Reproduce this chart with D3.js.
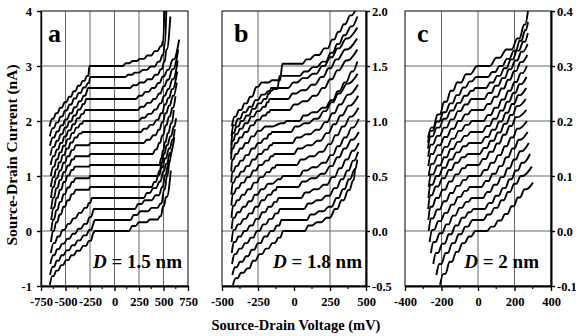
<!DOCTYPE html>
<html>
<head>
<meta charset="utf-8">
<script src="https://cdn.jsdelivr.net/npm/d3@7"></script>
<style>
  body { margin: 0; background: #fff; }
  svg text { font-family: "Liberation Serif", "Times New Roman", serif; font-weight: bold; fill: #000; }
</style>
</head>
<body>
<svg id="chart" width="578" height="336"></svg>
<script>
// ---- data ----
// each curve is a list of plateaus [V start (mV), V end (mV), I (nA, relative to the curve offset)]
const offsetsA = [0, 0.2, 0.4, 0.6, 0.8, 1.0, 1.2, 1.4, 1.6, 1.8, 2.0, 2.2, 2.4, 2.6, 2.8, 3.0];
const curvesA = [
  [[-660,-660,-0.98],[-635,-620,-0.82],[-595,-575,-0.72],[-545,-525,-0.62],[-495,-470,-0.53],[-440,-415,-0.44],[-385,-355,-0.36],[-320,-290,-0.27],[-262,-240,-0.18],[-222,-222,-0.06],[-195,150,0],[180,215,0.09],[250,330,0.16],[360,440,0.21],[465,475,0.27],[495,505,0.45],[525,535,0.62],[575,575,1.1]],
  [[-658,-658,-1.0],[-630,-615,-0.85],[-590,-570,-0.74],[-540,-520,-0.64],[-488,-465,-0.55],[-432,-408,-0.46],[-375,-350,-0.37],[-315,-288,-0.28],[-258,-240,-0.18],[-215,-215,-0.06],[-200,165,0],[195,230,0.09],[265,340,0.16],[380,440,0.22],[470,480,0.3],[505,512,0.55],[535,540,0.8],[560,560,1.1]],
  [[-655,-655,-1.0],[-626,-612,-0.84],[-585,-566,-0.73],[-535,-515,-0.63],[-482,-460,-0.54],[-426,-402,-0.45],[-368,-344,-0.36],[-308,-283,-0.27],[-255,-240,-0.15],[-210,210,0],[240,275,0.09],[310,380,0.16],[420,455,0.25],[485,492,0.4],[515,522,0.62],[548,555,0.82],[585,585,1.1]],
  [[-650,-650,-1.0],[-622,-608,-0.82],[-580,-562,-0.7],[-530,-510,-0.58],[-476,-455,-0.47],[-420,-398,-0.37],[-362,-340,-0.27],[-305,-283,-0.18],[-262,-248,-0.09],[-230,300,0],[330,360,0.09],[395,425,0.18],[460,470,0.3],[495,502,0.48],[525,535,0.62],[565,575,0.82],[610,610,1.1]],
  [[-648,-648,-1.0],[-628,-618,-0.8],[-596,-584,-0.64],[-560,-546,-0.5],[-522,-506,-0.36],[-480,-462,-0.24],[-438,-420,-0.13],[-395,-262,-0.05],[-248,380,0],[405,420,0.09],[448,458,0.22],[480,490,0.36],[515,525,0.52],[555,565,0.7],[590,598,0.86],[615,615,1.05]],
  [[-646,-646,-1.0],[-626,-616,-0.79],[-594,-582,-0.62],[-558,-544,-0.47],[-520,-504,-0.33],[-478,-460,-0.21],[-436,-418,-0.11],[-400,-262,-0.04],[-248,440,0],[458,464,0.1],[480,486,0.24],[502,510,0.4],[532,542,0.56],[568,578,0.72],[605,612,0.9],[628,628,1.05]],
  [[-645,-645,-1.0],[-625,-615,-0.78],[-593,-581,-0.6],[-557,-543,-0.45],[-520,-504,-0.31],[-480,-462,-0.19],[-440,-422,-0.09],[-405,-262,-0.03],[-248,460,0],[475,480,0.12],[492,498,0.26],[514,522,0.42],[542,552,0.58],[575,585,0.76],[605,605,1.0]],
  [[-646,-646,-1.0],[-626,-616,-0.79],[-594,-582,-0.62],[-558,-544,-0.47],[-520,-504,-0.33],[-478,-460,-0.21],[-436,-418,-0.1],[-400,-262,-0.04],[-248,390,0],[415,430,0.08],[455,465,0.2],[488,498,0.34],[520,530,0.52],[555,565,0.68],[590,600,0.84],[622,622,1.05]],
  [[-648,-648,-1.0],[-628,-618,-0.8],[-596,-584,-0.64],[-560,-546,-0.5],[-522,-506,-0.36],[-480,-462,-0.24],[-438,-420,-0.13],[-395,-262,-0.04],[-248,300,0],[330,360,0.06],[395,420,0.14],[448,460,0.24],[485,495,0.38],[518,528,0.54],[555,565,0.68],[595,605,0.86],[635,635,1.1]],
  [[-650,-650,-1.0],[-628,-616,-0.82],[-598,-584,-0.68],[-566,-550,-0.55],[-530,-512,-0.42],[-490,-470,-0.3],[-448,-428,-0.19],[-405,-385,-0.1],[-360,-342,-0.03],[-325,270,0],[300,330,0.06],[365,395,0.13],[428,445,0.22],[475,488,0.34],[512,522,0.5],[548,558,0.62],[585,595,0.78],[640,640,1.1]],
  [[-650,-650,-1.0],[-626,-614,-0.83],[-594,-580,-0.7],[-560,-544,-0.57],[-522,-504,-0.45],[-480,-460,-0.33],[-436,-416,-0.22],[-392,-372,-0.12],[-348,-332,-0.05],[-315,250,0],[280,310,0.06],[345,375,0.13],[410,430,0.21],[462,475,0.32],[505,515,0.46],[545,555,0.58],[590,600,0.76],[645,645,1.1]],
  [[-652,-652,-1.0],[-626,-612,-0.84],[-590,-575,-0.72],[-552,-535,-0.6],[-512,-494,-0.48],[-470,-450,-0.37],[-425,-405,-0.26],[-380,-360,-0.15],[-335,-318,-0.07],[-300,240,0],[270,300,0.06],[335,365,0.13],[400,420,0.2],[455,468,0.3],[498,510,0.43],[540,552,0.55],[590,600,0.74],[650,650,1.1]],
  [[-655,-655,-1.03],[-628,-614,-0.87],[-590,-574,-0.76],[-550,-532,-0.64],[-508,-488,-0.52],[-462,-442,-0.41],[-416,-396,-0.3],[-370,-350,-0.19],[-322,-306,-0.09],[-290,220,0],[250,280,0.06],[315,345,0.13],[385,410,0.2],[445,460,0.29],[492,505,0.41],[540,552,0.53],[595,605,0.72],[660,660,1.08]],
  [[-658,-658,-1.05],[-630,-615,-0.9],[-590,-572,-0.79],[-548,-528,-0.68],[-502,-482,-0.57],[-456,-436,-0.46],[-410,-390,-0.35],[-362,-342,-0.24],[-315,-298,-0.14],[-282,-282,-0.06],[-270,160,0],[190,225,0.05],[260,300,0.1],[340,380,0.16],[415,440,0.24],[472,485,0.34],[505,512,0.48],[530,535,0.7],[570,570,1.3]],
  [[-660,-660,-1.08],[-632,-618,-0.93],[-594,-576,-0.83],[-552,-532,-0.72],[-506,-486,-0.61],[-460,-440,-0.5],[-414,-394,-0.39],[-366,-346,-0.29],[-318,-298,-0.19],[-270,-262,-0.11],[-248,110,0],[140,175,0.04],[210,250,0.08],[290,330,0.13],[370,410,0.19],[445,462,0.28],[490,498,0.4],[512,516,0.6],[530,530,1.3]],
  [[-663,-663,-1.1],[-636,-622,-0.96],[-598,-580,-0.86],[-556,-536,-0.76],[-510,-490,-0.66],[-464,-444,-0.56],[-418,-398,-0.46],[-372,-352,-0.36],[-326,-306,-0.27],[-282,-268,-0.18],[-255,85,0],[115,150,0.05],[185,225,0.09],[260,300,0.13],[335,375,0.19],[410,440,0.27],[470,480,0.36],[494,497,0.45],[510,510,1.1]]
];

const offsetsB = [0, 0.1, 0.2, 0.3, 0.4, 0.5, 0.6, 0.7, 0.8, 0.9, 1.0, 1.1, 1.2, 1.3, 1.4, 1.5];
const curvesB = [
  [[-424,-424,-0.49],[-405,-392,-0.43],[-368,-350,-0.38],[-326,-310,-0.34],[-285,-268,-0.27],[-240,-222,-0.21],[-195,-178,-0.16],[-150,-132,-0.11],[-108,-95,-0.06],[-76,76,0],[100,125,0.05],[160,190,0.08],[225,250,0.12],[285,300,0.2],[330,345,0.28],[375,385,0.37],[410,415,0.46],[424,424,0.57]],
  [[-428,-428,-0.5],[-410,-398,-0.43],[-375,-358,-0.38],[-334,-318,-0.33],[-294,-276,-0.27],[-250,-232,-0.21],[-206,-188,-0.15],[-162,-144,-0.1],[-118,-102,-0.05],[-88,90,0],[115,140,0.05],[175,205,0.08],[240,262,0.12],[295,310,0.2],[340,352,0.28],[380,390,0.37],[420,425,0.46],[440,440,0.55]],
  [[-430,-430,-0.5],[-414,-402,-0.41],[-380,-364,-0.36],[-340,-324,-0.31],[-300,-282,-0.26],[-258,-240,-0.2],[-214,-196,-0.14],[-170,-152,-0.09],[-128,-112,-0.04],[-98,70,0],[98,122,0.05],[158,188,0.08],[222,246,0.12],[280,296,0.19],[328,340,0.27],[370,380,0.35],[410,418,0.44],[445,445,0.52]],
  [[-432,-432,-0.5],[-418,-406,-0.4],[-386,-370,-0.35],[-346,-330,-0.3],[-306,-288,-0.25],[-264,-246,-0.19],[-220,-202,-0.13],[-176,-158,-0.08],[-135,-120,-0.035],[-108,50,0],[78,102,0.05],[138,168,0.08],[205,230,0.12],[265,282,0.19],[315,328,0.27],[360,372,0.35],[405,414,0.43],[450,450,0.5]],
  [[-433,-433,-0.5],[-421,-410,-0.39],[-390,-374,-0.34],[-350,-334,-0.29],[-310,-292,-0.24],[-268,-250,-0.18],[-224,-206,-0.12],[-180,-162,-0.07],[-140,-126,-0.03],[-118,30,0],[58,82,0.05],[120,150,0.08],[188,212,0.12],[250,266,0.19],[300,314,0.27],[348,360,0.35],[398,408,0.43],[450,450,0.5]],
  [[-433,-433,-0.48],[-422,-412,-0.38],[-393,-378,-0.33],[-354,-338,-0.28],[-314,-296,-0.23],[-272,-254,-0.17],[-228,-210,-0.12],[-180,-150,-0.07],[-110,-95,-0.03],[-75,40,0],[66,90,0.05],[128,158,0.08],[195,220,0.12],[255,270,0.19],[302,316,0.27],[350,362,0.35],[400,410,0.44],[450,450,0.52]],
  [[-434,-434,-0.48],[-424,-414,-0.37],[-396,-382,-0.32],[-360,-344,-0.27],[-320,-302,-0.22],[-278,-260,-0.16],[-234,-216,-0.11],[-190,-172,-0.065],[-148,-135,-0.025],[-122,20,0],[48,72,0.05],[110,140,0.08],[178,202,0.12],[240,255,0.19],[288,302,0.27],[336,348,0.35],[390,400,0.44],[448,448,0.52]],
  [[-435,-435,-0.47],[-425,-416,-0.36],[-399,-385,-0.31],[-364,-348,-0.26],[-325,-307,-0.21],[-283,-265,-0.15],[-240,-222,-0.1],[-196,-178,-0.06],[-160,-148,-0.02],[-135,0,0],[28,52,0.05],[92,122,0.08],[162,186,0.12],[225,240,0.19],[275,289,0.27],[322,334,0.35],[380,390,0.44],[446,446,0.53]],
  [[-435,-435,-0.47],[-426,-418,-0.36],[-401,-388,-0.31],[-368,-352,-0.26],[-330,-312,-0.21],[-288,-270,-0.15],[-245,-227,-0.1],[-202,-184,-0.06],[-168,-156,-0.02],[-145,-10,0],[18,42,0.05],[82,112,0.08],[152,176,0.12],[216,231,0.19],[266,280,0.27],[314,326,0.35],[374,384,0.44],[444,444,0.53]],
  [[-436,-436,-0.46],[-428,-420,-0.36],[-404,-391,-0.31],[-372,-356,-0.26],[-335,-317,-0.21],[-293,-275,-0.15],[-250,-232,-0.1],[-207,-189,-0.06],[-175,-163,-0.02],[-152,-20,0],[8,32,0.05],[72,102,0.08],[142,166,0.12],[207,222,0.19],[258,272,0.27],[306,318,0.35],[368,378,0.44],[442,442,0.53]],
  [[-436,-436,-0.46],[-429,-421,-0.35],[-406,-393,-0.3],[-375,-359,-0.25],[-338,-320,-0.2],[-296,-278,-0.14],[-252,-234,-0.09],[-200,-150,-0.05],[-90,-70,-0.02],[-50,40,0],[66,90,0.05],[128,158,0.08],[196,220,0.12],[256,271,0.19],[304,318,0.27],[350,362,0.35],[400,410,0.45],[440,440,0.54]],
  [[-437,-437,-0.45],[-430,-422,-0.35],[-408,-395,-0.3],[-378,-362,-0.25],[-342,-324,-0.2],[-300,-282,-0.14],[-258,-240,-0.09],[-216,-198,-0.05],[-182,-172,-0.02],[-165,-30,0],[0,24,0.05],[62,92,0.08],[132,156,0.13],[198,213,0.2],[250,264,0.28],[300,312,0.36],[362,372,0.45],[440,440,0.55]],
  [[-437,-437,-0.5],[-430,-421,-0.38],[-406,-393,-0.32],[-376,-360,-0.27],[-340,-322,-0.22],[-298,-280,-0.16],[-256,-238,-0.11],[-214,-198,-0.07],[-188,-178,-0.03],[-170,-40,0],[-10,14,0.05],[52,82,0.08],[122,146,0.13],[188,203,0.2],[240,254,0.28],[292,304,0.36],[356,366,0.45],[438,438,0.55]],
  [[-436,-436,-0.52],[-427,-417,-0.41],[-400,-386,-0.35],[-368,-352,-0.3],[-330,-312,-0.25],[-288,-270,-0.19],[-248,-230,-0.14],[-208,-192,-0.1],[-178,-168,-0.05],[-160,-40,0],[-5,20,0.05],[60,90,0.09],[130,155,0.13],[196,212,0.2],[250,264,0.28],[302,314,0.36],[362,372,0.45],[440,440,0.55]],
  [[-434,-434,-0.54],[-422,-410,-0.44],[-390,-374,-0.38],[-352,-334,-0.32],[-310,-292,-0.27],[-268,-250,-0.21],[-225,-205,-0.16],[-180,-160,-0.13],[-140,-115,-0.11],[-100,40,0.01],[70,95,0.05],[130,160,0.09],[198,222,0.14],[255,270,0.22],[300,314,0.3],[345,356,0.38],[395,405,0.46],[440,440,0.55]],
  [[-431,-431,-0.55],[-415,-404,-0.46],[-382,-366,-0.4],[-344,-328,-0.34],[-305,-290,-0.28],[-262,-250,-0.19],[-225,-180,-0.15],[-150,-97,-0.13],[-80,60,0.02],[85,110,0.06],[145,175,0.1],[210,235,0.16],[265,280,0.24],[305,318,0.31],[345,356,0.38],[390,400,0.46],[440,440,0.55]]
];

const offsetsC = [0, 0.02, 0.04, 0.06, 0.08, 0.10, 0.12, 0.14, 0.16, 0.18, 0.20, 0.22, 0.24, 0.26, 0.28, 0.30];
const curvesC = [
  [[-208,-208,-0.098],[-190,-178,-0.078],[-156,-142,-0.056],[-120,-108,-0.038],[-86,-74,-0.022],[-50,-38,-0.01],[-15,50,0],[72,88,0.008],[110,126,0.019],[148,162,0.031],[184,196,0.045],[218,230,0.061],[255,265,0.076],[301,301,0.088]],
  [[-228,-228,-0.1],[-212,-200,-0.08],[-178,-164,-0.06],[-142,-128,-0.042],[-106,-92,-0.026],[-70,-56,-0.012],[-30,30,0],[52,68,0.01],[90,106,0.022],[128,142,0.036],[164,176,0.051],[198,210,0.066],[234,244,0.08],[295,295,0.097]],
  [[-245,-245,-0.1],[-230,-218,-0.08],[-196,-182,-0.063],[-160,-146,-0.046],[-124,-110,-0.03],[-88,-74,-0.016],[-52,-40,-0.006],[-25,38,0],[60,76,0.011],[98,114,0.024],[136,150,0.038],[172,184,0.054],[206,218,0.07],[240,250,0.084],[285,285,0.1]],
  [[-258,-258,-0.1],[-244,-232,-0.08],[-210,-196,-0.064],[-174,-160,-0.048],[-138,-124,-0.032],[-102,-88,-0.018],[-66,-52,-0.007],[-35,28,0],[50,66,0.011],[88,104,0.024],[126,140,0.038],[162,174,0.054],[196,208,0.07],[230,240,0.085],[278,278,0.1]],
  [[-265,-265,-0.1],[-252,-240,-0.078],[-218,-204,-0.062],[-182,-168,-0.047],[-146,-132,-0.032],[-110,-96,-0.018],[-74,-60,-0.007],[-45,20,0],[42,58,0.011],[80,96,0.024],[118,132,0.038],[154,166,0.054],[188,200,0.07],[222,232,0.086],[272,272,0.1]],
  [[-270,-270,-0.1],[-258,-246,-0.077],[-224,-210,-0.061],[-188,-174,-0.046],[-152,-138,-0.031],[-116,-102,-0.018],[-80,-66,-0.007],[-50,12,0],[34,50,0.011],[72,88,0.024],[110,124,0.038],[146,158,0.054],[180,192,0.07],[214,224,0.086],[268,268,0.1]],
  [[-272,-272,-0.1],[-261,-250,-0.076],[-230,-216,-0.06],[-194,-180,-0.045],[-158,-144,-0.03],[-122,-108,-0.017],[-86,-72,-0.006],[-58,5,0],[27,43,0.011],[65,81,0.024],[103,117,0.039],[139,151,0.055],[173,185,0.071],[207,217,0.087],[265,265,0.1]],
  [[-273,-273,-0.1],[-262,-252,-0.075],[-232,-218,-0.059],[-196,-182,-0.044],[-160,-146,-0.029],[-124,-110,-0.016],[-88,-74,-0.006],[-55,10,0],[32,48,0.011],[70,86,0.024],[108,122,0.039],[144,156,0.055],[178,190,0.071],[212,222,0.087],[262,262,0.1]],
  [[-272,-272,-0.1],[-261,-250,-0.076],[-228,-214,-0.06],[-192,-178,-0.045],[-156,-142,-0.03],[-118,-104,-0.017],[-80,-66,-0.006],[-48,18,0],[40,56,0.011],[78,94,0.024],[116,130,0.039],[152,164,0.055],[186,198,0.071],[220,230,0.087],[264,264,0.1]],
  [[-270,-270,-0.1],[-258,-246,-0.077],[-222,-208,-0.061],[-186,-172,-0.046],[-150,-136,-0.031],[-112,-98,-0.018],[-74,-60,-0.007],[-40,25,0],[47,63,0.011],[85,101,0.024],[123,137,0.039],[159,171,0.055],[193,205,0.071],[227,237,0.087],[266,266,0.1]],
  [[-270,-270,-0.1],[-257,-245,-0.078],[-220,-206,-0.062],[-182,-168,-0.047],[-144,-130,-0.032],[-106,-92,-0.018],[-68,-54,-0.007],[-32,32,0],[54,70,0.011],[92,108,0.024],[130,144,0.039],[166,178,0.055],[200,212,0.071],[234,244,0.087],[268,268,0.1]],
  [[-272,-272,-0.102],[-259,-247,-0.08],[-222,-208,-0.064],[-184,-170,-0.049],[-146,-132,-0.034],[-108,-94,-0.02],[-70,-56,-0.008],[-35,30,0],[52,68,0.011],[90,106,0.024],[128,142,0.039],[164,176,0.055],[198,210,0.071],[232,242,0.087],[270,270,0.1]],
  [[-273,-273,-0.105],[-260,-248,-0.083],[-224,-210,-0.067],[-186,-172,-0.052],[-148,-134,-0.037],[-110,-96,-0.022],[-72,-58,-0.01],[-36,35,0],[57,73,0.011],[95,111,0.024],[133,147,0.038],[169,181,0.054],[203,215,0.07],[237,247,0.086],[272,272,0.1]],
  [[-274,-274,-0.11],[-261,-249,-0.088],[-226,-212,-0.072],[-188,-174,-0.056],[-150,-136,-0.041],[-112,-98,-0.027],[-74,-60,-0.014],[-38,-26,-0.005],[-15,45,0],[67,83,0.01],[105,121,0.022],[143,157,0.036],[179,191,0.052],[213,225,0.068],[247,257,0.084],[273,273,0.1]],
  [[-274,-274,-0.12],[-260,-248,-0.098],[-226,-212,-0.081],[-190,-176,-0.064],[-154,-140,-0.048],[-118,-104,-0.033],[-82,-68,-0.019],[-46,-34,-0.008],[-10,55,0],[78,94,0.009],[118,134,0.02],[158,172,0.033],[196,208,0.048],[228,238,0.066],[258,262,0.085],[274,274,0.1]],
  [[-274,-274,-0.131],[-256,-244,-0.112],[-222,-208,-0.088],[-186,-172,-0.065],[-150,-136,-0.045],[-115,-92,-0.03],[-66,-42,-0.015],[-5,66,0],[100,120,0.015],[155,185,0.03],[215,228,0.05],[252,258,0.075],[274,274,0.1]]
];

const ticksXA = [-750, -500, -250, 0, 250, 500, 750];
const ticksXB = [-500, -250, 0, 250, 500];
const ticksXC = [-400, -200, 0, 200, 400];
const ticksYA = [-1, 0, 1, 2, 3, 4];
const ticksYB = [-0.5, 0, 0.5, 1.0, 1.5, 2.0];
const ticksYC = [-0.1, 0, 0.1, 0.2, 0.3, 0.4];
const gridXA = [-500, -250, 0, 250, 500];
const gridXB = [-250, 250];
const gridXC = [-200, 0, 200];
const gridYA = [0, 1, 2, 3];
const gridYB = [0, 0.5, 1.0, 1.5];
const gridYC = [0, 0.1, 0.2, 0.3];
const panelLetters = ["a", "b", "c"];
const diameters = ["1.5", "1.8", "2"];

// ---- layout ----
const svg = d3.select("#chart");
const plotTop = 11, plotBottom = 286;
const serif = '"Liberation Serif", "Times New Roman", serif';

const panels = [
  { left: 41, right: 188, xDom: [-750, 750], yDom: [-1, 4], xTicks: ticksXA, yTicks: ticksYA,
    gx: gridXA, gy: gridYA, side: "left", fmt: d => String(d), curves: curvesA, offsets: offsetsA, dRight: 182 },
  { left: 222, right: 366, xDom: [-500, 500], yDom: [-0.5, 2.0], xTicks: ticksXB, yTicks: ticksYB,
    gx: gridXB, gy: gridYB, side: "right", fmt: d => d.toFixed(1), curves: curvesB, offsets: offsetsB, dRight: 362 },
  { left: 405, right: 551, xDom: [-400, 400], yDom: [-0.1, 0.4], xTicks: ticksXC, yTicks: ticksYC,
    gx: gridXC, gy: gridYC, side: "right", fmt: d => d.toFixed(1), curves: curvesC, offsets: offsetsC, dRight: 539 }
];

// plateaus -> points
function toPoints(plateaus, off) {
  const pts = [];
  plateaus.forEach(([v1, v2, i]) => {
    pts.push([v1, i + off]);
    if (v2 !== v1) pts.push([v2, i + off]);
  });
  return pts;
}

panels.forEach((p, i) => {
  const x = d3.scaleLinear().domain(p.xDom).range([p.left, p.right]);
  const y = d3.scaleLinear().domain(p.yDom).range([plotBottom, plotTop]);
  const g = svg.append("g");

  // grid
  g.selectAll(".vg").data(p.gx).enter().append("line")
    .attr("x1", d => x(d)).attr("x2", d => x(d)).attr("y1", plotTop).attr("y2", plotBottom)
    .attr("stroke", "#555").attr("stroke-width", 0.9);
  g.selectAll(".hg").data(p.gy).enter().append("line")
    .attr("x1", p.left).attr("x2", p.right).attr("y1", d => y(d)).attr("y2", d => y(d))
    .attr("stroke", "#555").attr("stroke-width", 0.9);

  // curves
  const clipId = "clip" + i;
  svg.append("clipPath").attr("id", clipId).append("rect")
    .attr("x", p.left).attr("y", plotTop).attr("width", p.right - p.left).attr("height", plotBottom - plotTop);
  const line = d3.line().x(d => x(d[0])).y(d => y(d[1])).curve(d3.curveMonotoneX);
  g.append("g").attr("clip-path", `url(#${clipId})`)
    .selectAll("path").data(p.curves).enter().append("path")
    .attr("d", (c, k) => line(toPoints(c, p.offsets[k])))
    .attr("fill", "none").attr("stroke", "#000").attr("stroke-width", 1.9)
    .attr("stroke-linejoin", "round");

  // frame
  g.append("rect").attr("x", p.left).attr("y", plotTop)
    .attr("width", p.right - p.left).attr("height", plotBottom - plotTop)
    .attr("fill", "none").attr("stroke", "#000").attr("stroke-width", 1);

  // bottom axis
  const minor = d3.pairs(p.xTicks).map(([a, b]) => (a + b) / 2);
  g.selectAll(".mt").data(minor).enter().append("line")
    .attr("x1", d => x(d)).attr("x2", d => x(d)).attr("y1", plotBottom).attr("y2", plotBottom + 3)
    .attr("stroke", "#000").attr("stroke-width", 1.2);
  const xa = g.append("g").attr("transform", `translate(0,${plotBottom})`)
    .call(d3.axisBottom(x).tickValues(p.xTicks).tickSize(5).tickPadding(6).tickSizeOuter(0).tickFormat(d => String(d)));
  xa.select(".domain").attr("stroke-width", 2);
  xa.selectAll(".tick line").attr("stroke-width", 1.4);
  xa.selectAll("text").style("font-family", serif).style("font-weight", "bold")
    .style("font-size", "12.5px").attr("fill", "#000");

  // vertical axis
  const ax = p.side === "left" ? d3.axisLeft(y) : d3.axisRight(y);
  const ya = g.append("g").attr("transform", `translate(${p.side === "left" ? p.left : p.right},0)`)
    .call(ax.tickValues(p.yTicks).tickSize(4).tickPadding(p.side === "left" ? 5 : 2).tickSizeOuter(0).tickFormat(p.fmt));
  ya.select(".domain").attr("stroke-width", p.side === "left" ? 1.4 : 2);
  ya.selectAll(".tick line").attr("stroke-width", 1.4);
  ya.selectAll("text").style("font-family", serif).style("font-weight", "bold")
    .style("font-size", "12.5px").attr("fill", "#000");

  // panel letter
  g.append("text").attr("x", p.left + (i === 0 ? 7 : 12)).attr("y", 42)
    .style("font-size", "26px").text(panelLetters[i]);

  // diameter label
  const t = g.append("text").attr("x", p.dRight).attr("y", 268)
    .attr("text-anchor", "end").style("font-size", "19px");
  t.append("tspan").style("font-style", "italic").text("D");
  t.append("tspan").text(" = " + diameters[i] + " nm");
});

// axis titles
svg.append("text").attr("x", 296).attr("y", 330).attr("text-anchor", "middle")
  .style("font-size", "14.5px").text("Source-Drain Voltage (mV)");
svg.append("text").attr("transform", "translate(17,155) rotate(-90)").attr("text-anchor", "middle")
  .style("font-size", "15.5px").text("Source-Drain Current (nA)");
</script>
</body>
</html>
